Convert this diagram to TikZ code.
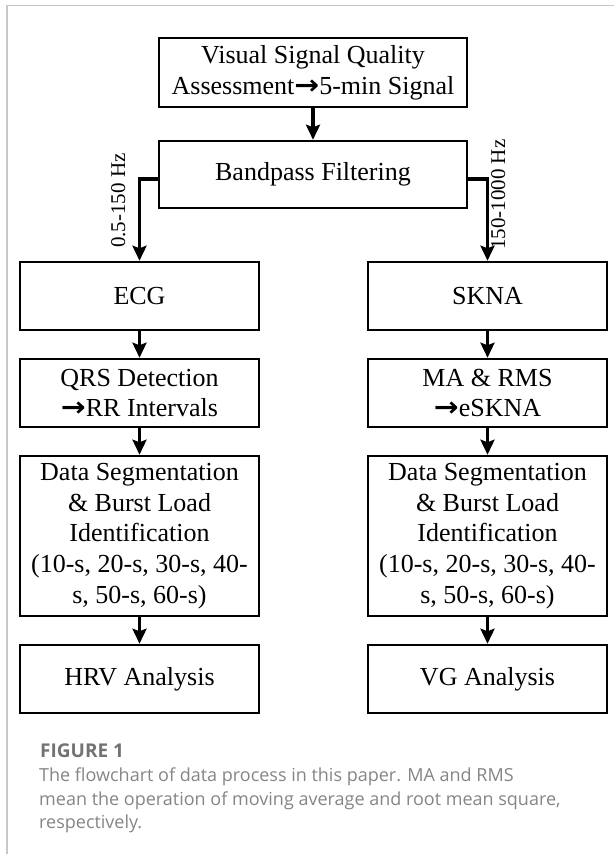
\documentclass[tikz,border=0pt]{standalone}
\usepackage{fontspec}
\setmainfont{Liberation Serif}
\newfontfamily\capfont{Open Sans}
\newfontfamily\arrowfont{DejaVu Sans}
\usetikzlibrary{arrows.meta}

\definecolor{framegray}{HTML}{C8C8C8}
\definecolor{capgray}{HTML}{858585}
\definecolor{headgray}{HTML}{737373}

\newcommand{\bigarrow}{{\arrowfont\bfseries\fontsize{27}{27}\selectfont\scalebox{1.1}[1]{→}}}

\tikzset{
  procbox/.style={draw=black, line width=2.5pt, minimum width=308pt, inner sep=0pt,
    align=center, font=\fontsize{26}{30.8}\selectfont},
  sidebox/.style={procbox, minimum width=239pt},
  flow/.style={line width=3.2pt, -{Stealth[length=15pt, width=14pt, inset=2.5pt]}},
  branchlabel/.style={rotate=90, anchor=base west, inner sep=0pt,
    font=\fontsize{21}{21}\selectfont},
  capline/.style={anchor=base west, inner sep=0pt, text=capgray,
    font=\capfont\fontsize{18}{18}\selectfont},
}

\begin{document}
\begin{tikzpicture}[x=1pt, y=-1pt]
\useasboundingbox (0,0) rectangle (614,854);

% page frame (top and left rules)
\draw[framegray, line width=1.3pt] (7,854) -- (7,5.5) -- (614,5.5);

% common stages
\node[procbox, minimum height=69pt] (vsq) at (313,72.5)
  {Visual Signal Quality\\ Assessment\bigarrow5-min Signal};
\node[procbox, minimum height=67pt] (bpf) at (313,174.5) {Bandpass Filtering};

% ECG column
\node[sidebox, minimum height=68pt] (ecg) at (139.5,296) {ECG};
\node[sidebox, minimum height=68pt] (qrs) at (139.5,393)
  {QRS Detection\\ \bigarrow RR Intervals};
\node[sidebox, minimum height=160pt] (segl) at (139.5,536)
  {Data Segmentation\\ \& Burst Load\\ Identification\\ (10-s, 20-s, 30-s, 40-\\ s, 50-s, 60-s)};
\node[sidebox, minimum height=68pt] (hrv) at (139.5,679) {HRV Analysis};

% SKNA column
\node[sidebox, minimum height=68pt] (skna) at (487.5,296) {SKNA};
\node[sidebox, minimum height=68pt] (marms) at (487.5,393)
  {MA \& RMS\\ \bigarrow eSKNA};
\node[sidebox, minimum height=160pt] (segr) at (487.5,536)
  {Data Segmentation\\ \& Burst Load\\ Identification\\ (10-s, 20-s, 30-s, 40-\\ s, 50-s, 60-s)};
\node[sidebox, minimum height=68pt] (vg) at (487.5,679) {VG Analysis};

% connectors
\draw[flow] (vsq) -- (bpf);
\draw[flow] ([yshift=-4.5pt]bpf.west) -| (ecg.north);
\draw[flow] ([yshift=-4.5pt]bpf.east) -| (skna.north);
\draw[flow] (ecg) -- (qrs);
\draw[flow] (qrs) -- (segl);
\draw[flow] (segl) -- (hrv);
\draw[flow] (skna) -- (marms);
\draw[flow] (marms) -- (segr);
\draw[flow] (segr) -- (vg);

% filter band labels
\node[branchlabel] (lbll) at (125,248) {0.5-150 Hz};
\node[branchlabel] (lblr) at (505,250) {150-1000 Hz};

% caption
\node[anchor=base west, inner sep=0pt, text=headgray,
  font=\capfont\bfseries\fontsize{19}{19}\selectfont] (fig) at (40,757) {FIGURE 1};
\node[capline] (cap1) at (39,781) {The flowchart of data process in this paper. MA and RMS};
\node[capline] (cap2) at (39,805) {mean the operation of moving average and root mean square,};
\node[capline] (cap3) at (39,828) {respectively.};
\end{tikzpicture}
\end{document}
